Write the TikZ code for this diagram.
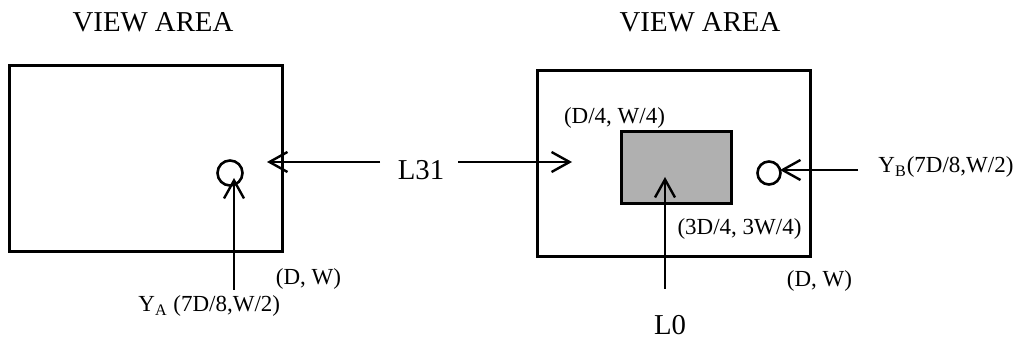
\documentclass[tikz,border=0pt]{standalone}
\usepackage{fontspec}
\setmainfont{Liberation Serif}
\usetikzlibrary{arrows.meta}
\begin{document}
\begin{tikzpicture}[x=0.5pt,y=-0.5pt,
  frame/.style={draw=black,line width=1.5pt},
  panel/.style={frame,fill=black!31},
  ring/.style={draw=black,line width=1.3pt,circle,minimum size=23.5pt,inner sep=0pt},
  conn/.style={draw=black,line width=1.2pt,-{Straight Barb[length=9pt,width=10pt,line width=1.2pt]}},
  title/.style={anchor=base,inner sep=0pt,font=\fontsize{14.4}{17}\selectfont},
  lbl/.style={anchor=base,inner sep=0pt,font=\fontsize{11.5}{13}\selectfont}]
\useasboundingbox (0,0) rectangle (1022,341);
% view areas
\node[title] (t1) at (153,32) {VIEW AREA};
\node[title] (t2) at (700,32) {VIEW AREA};
\draw[frame] (9,66) rectangle (282,252);
\draw[frame] (537,71) rectangle (810,257);
\draw[panel] (621,132) rectangle (731,204);
% circles
\node[ring,minimum size=12.5pt] (cA) at (230,173) {};
\node[ring,minimum size=11.5pt] (cB) at (769,173) {};
% labels
\node[title] (L31) at (421,180) {L31};
\node[title] (L0) at (670,335) {L0};
\node[lbl] (dw1) at (308.5,285) {(D, W)};
\node[lbl] (dw2) at (819.5,287) {(D, W)};
\node[lbl] (d4) at (614.5,124) {(D/4, W/4)};
\node[lbl] (d34) at (739.5,235) {(3D/4, 3W/4)};
\node[lbl,anchor=base west] (yA) at (138,312) {Y\textsubscript{A} (7D/8,W/2)};
\node[lbl,anchor=base west] (yB) at (878,173) {Y\textsubscript{B}(7D/8,W/2)};
% arrow ends
\coordinate (a1s) at (380,162);
\coordinate (a1e) at (267,162);
\coordinate (a2s) at (458,162);
\coordinate (a2e) at (572,162);
\coordinate (a3s) at (234,290);
\coordinate (a3e) at (234,178);
\coordinate (a4s) at (665,289);
\coordinate (a4e) at (665,177);
\coordinate (a5s) at (858,170);
\coordinate (a5e) at (780,170);
\draw[conn] (a1s) -- (a1e);
\draw[conn] (a2s) -- (a2e);
\draw[conn] (a3s) -- (a3e);
\draw[conn] (a4s) -- (a4e);
\draw[conn] (a5s) -- (a5e);
\end{tikzpicture}
\end{document}
